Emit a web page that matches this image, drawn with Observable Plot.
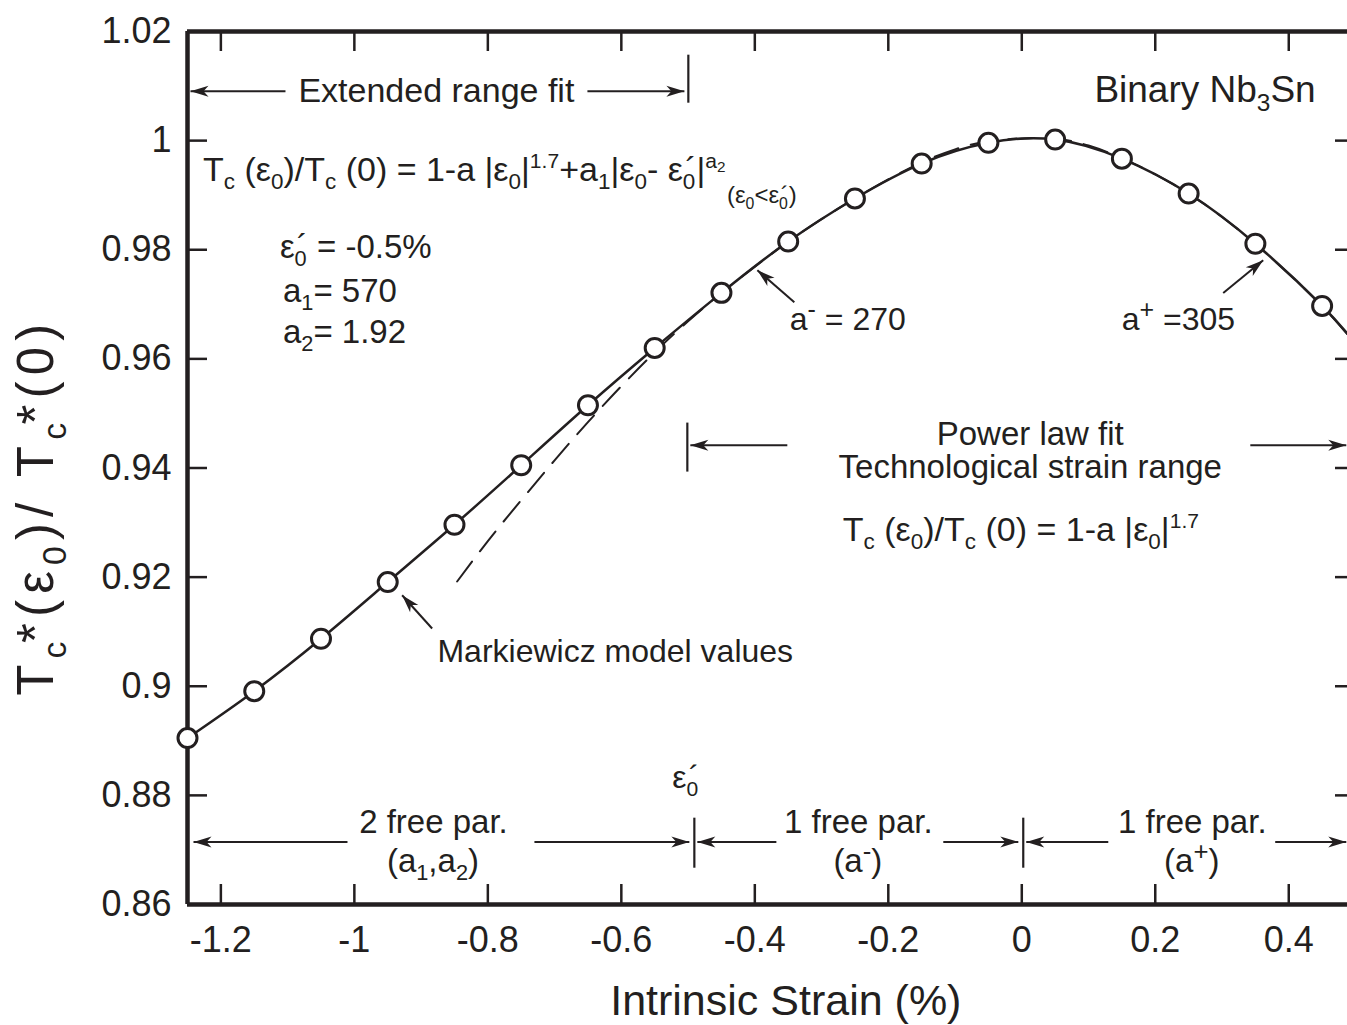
<!DOCTYPE html>
<html><head><meta charset="utf-8">
<script src="https://cdn.jsdelivr.net/npm/d3@7"></script>
<script src="https://cdn.jsdelivr.net/npm/@observablehq/plot@0.6"></script>
<style>html,body{margin:0;padding:0;background:#fff;overflow:hidden;} svg text{white-space:pre;}</style>
</head><body><div id="chart"></div>
<script>
// ---------- data ----------
const strain = [-1.25,-1.15,-1.05,-0.95,-0.85,-0.75,-0.65,-0.55,-0.45,-0.35,-0.25,-0.15,-0.05,0.05,0.15,0.25,0.35,0.45];
const markiewicz = [0.8905,0.8991,0.9087,0.9191,0.9296,0.9405,0.9515,0.9620,0.9721,0.9815,0.9894,0.9958,0.9996,1.0002,0.9967,0.9903,0.9811,0.9697];
// extended range fit (solid curve)
const fitStrain = [-1.25,-1.15,-1.05,-0.95,-0.85,-0.75,-0.65,-0.55,-0.45,-0.35,-0.25,-0.15,-0.05,0.05,0.15,0.25,0.35,0.45,0.5];
const fitValue  = [0.8905,0.8991,0.9087,0.9191,0.9296,0.9405,0.9515,0.9620,0.9721,0.9815,0.9894,0.9958,0.9996,1.0002,0.9967,0.9903,0.9811,0.9697,0.9628];
// power law fit (dashed curve)
const powStrain = [-0.846,-0.8,-0.75,-0.7,-0.65,-0.6,-0.55,-0.5,-0.45,-0.4,-0.35,-0.3,-0.25,-0.2,-0.15,-0.1,-0.05,0,0.05,0.1,0.15,0.2,0.25,0.3,0.35,0.4,0.45,0.5];
const powValue  = [0.9192,0.9266,0.9341,0.9414,0.9484,0.9550,0.9612,0.9669,0.9721,0.9769,0.9815,0.9856,0.9894,0.9929,0.9960,0.9984,0.9999,1.0004,1.0004,0.9991,0.9968,0.9938,0.9903,0.9860,0.9811,0.9756,0.9697,0.9628];

const xTicks = [-1.2,-1,-0.8,-0.6,-0.4,-0.2,0,0.2,0.4];
const xTickLabels = ["-1.2","-1","-0.8","-0.6","-0.4","-0.2","0","0.2","0.4"];
const yTicks = [0.86,0.88,0.9,0.92,0.94,0.96,0.98,1,1.02];
const yTickLabels = ["0.86","0.88","0.9","0.92","0.94","0.96","0.98","1","1.02"];

// annotations (data coordinates)
const arrows = [
  {x1:-1.1032, y1:1.00906, x2:-1.2455, y2:1.00906},
  {x1:-0.6508, y1:1.00906, x2:-0.5055, y2:1.00906},
  {x1:-0.3408, y1:0.97039, x2:-0.3962, y2:0.97626},
  {x1:0.3018,  y1:0.97209, x2:0.3617,  y2:0.97808},
  {x1:-0.3513, y1:0.94418, x2:-0.4966, y2:0.94418},
  {x1:0.3424,  y1:0.94418, x2:0.4862,  y2:0.94418},
  {x1:-0.8835, y1:0.91058, x2:-0.9284, y2:0.91668},
  {x1:-1.0103, y1:0.87147, x2:-1.2410, y2:0.87147},
  {x1:-0.7302, y1:0.87147, x2:-0.4981, y2:0.87147},
  {x1:-0.3677, y1:0.87147, x2:-0.4861, y2:0.87147},
  {x1:-0.1176, y1:0.87147, x2:-0.0052, y2:0.87147},
  {x1:0.1296,  y1:0.87147, x2:0.0067,  y2:0.87147},
  {x1:0.3797,  y1:0.87147, x2:0.4862,  y2:0.87147}
];
const bars = [
  {x:-0.4996, y1:1.00686, y2:1.01566},
  {x:-0.5011, y1:0.93925, y2:0.94823},
  {x:-0.4906, y1:0.86665, y2:0.87582},
  {x:0.0022,  y1:0.86665, y2:0.87582}
];
const plainMiddle = [
  {x:-0.8771, y:1.00704, text:"Extended range fit", size:34},
  {x:0.0127,  y:0.94418, text:"Power law fit", size:33},
  {x:0.0127,  y:0.93813, text:"Technological strain range", size:33},
  {x:-0.8815, y:0.87305, text:"2 free par.", size:33},
  {x:-0.2449, y:0.87305, text:"1 free par.", size:33},
  {x:0.2554,  y:0.87305, text:"1 free par.", size:33}
];
const plainStart = [
  {x:-0.8755, y:0.90440, text:"Markiewicz model values", size:32}
];
// rich text: [string, kind, dx(em)]
const richLabels = [
  {x:0.4411, y:1.00704, size:37, anchor:"end", parts:[["Binary Nb"],["3","sub"],["Sn"]]},
  {x:-1.2260, y:0.99256, size:34, parts:[["T"],["c","sub"],[" (ε"],["0","sub"],[")/T"],["c","sub"],[" (0) = 1-a |ε"],["0","sub"],["|"],["1.7","sup"],["+a"],["1","sub"],["|ε"],["0","sub"],["- ε"],["0","sub"],["´","n",-0.3],["|"],["a","sup"],["2","supsub"]]},
  {x:-0.4411, y:0.98853, size:24, parts:[["(ε"],["0","sub"],["<ε"],["0","sub"],["´","n",-0.3],[")"]]},
  {x:-1.1108, y:0.97845, size:33, parts:[["ε"],["0","sub"],["´","n",-0.3],[" = -0.5%"]]},
  {x:-1.1063, y:0.97039, size:33, parts:[["a"],["1","sub"],["= 570"]]},
  {x:-1.1063, y:0.96288, size:33, parts:[["a"],["2","sub"],["= 1.92"]]},
  {x:-0.3468, y:0.96525, size:32, parts:[["a"],["-","supbig"],[" = 270"]]},
  {x:0.1505,  y:0.96525, size:32, parts:[["a"],["+","supbig"],[" =305"]]},
  {x:-0.2674, y:0.92658, size:34, parts:[["T"],["c","sub"],[" (ε"],["0","sub"],[")/T"],["c","sub"],[" (0) = 1-a |ε"],["0","sub"],["|"],["1.7","sup"]]},
  {x:-0.5026, y:0.88131, size:32, anchor:"middle", parts:[["ε"],["0","sub"],["´","n",-0.3]]},
  {x:-0.8815, y:0.86590, size:33, anchor:"middle", parts:[["(a"],["1","sub"],[",a"],["2","sub"],[")"]]},
  {x:-0.2449, y:0.86590, size:33, anchor:"middle", parts:[["(a"],["-","supbig"],[")"]]},
  {x:0.2554,  y:0.86590, size:33, anchor:"middle", parts:[["(a"],["+","supbig"],[")"]]},
  {x:-0.3528, y:0.83970, size:43, anchor:"middle", parts:[["Intrinsic Strain (%)"]]},
  {x:-1.4507, y:0.93226, size:51, anchor:"middle", rotate:-90, length:372, parts:[["T"],["c","sub"],["*","n",-0.15],["(ε"],["0","sub"],[")/ T"],["c","sub"],["*","n",-0.15],["(0)"]]}
];

// ---------- styling ----------
const FONT = "'Liberation Sans', Arial, Helvetica, sans-serif";
const INK = "#231f20";
const KINDS = {n:{s:1,d:0}, sub:{s:0.66,d:0.25}, sup:{s:0.62,d:-0.36}, supsub:{s:0.45,d:-0.26}, supbig:{s:0.78,d:-0.36}};
// filled dart-shaped arrow head, tip at the origin pointing up
const dartHead = {draw(ctx) { ctx.moveTo(0, 0); ctx.lineTo(-5.5, 18); ctx.lineTo(0, 13); ctx.lineTo(5.5, 18); ctx.closePath(); }};

const markers = strain.map((x,i)=>({x, y:markiewicz[i]}));
const fit = fitStrain.map((x,i)=>({x, y:fitValue[i]}));
const pow = powStrain.map((x,i)=>({x, y:powValue[i]}));

function build(heads) {
  return Plot.plot({
    width: 1347, height: 1025,
    marginLeft: 187, marginRight: -8, marginTop: 31, marginBottom: 121,
    x: {domain: [-1.25, 0.5]},
    y: {domain: [0.86, 1.02]},
    style: {fontFamily: FONT, color: INK, background: "white"},
    marks: [
      // inward ticks (bottom, top, left, right)
      Plot.ruleX(xTicks, {stroke: INK, strokeWidth: 2.5, insetTop: 853}),
      Plot.ruleX(xTicks, {stroke: INK, strokeWidth: 2.5, insetBottom: 853}),
      Plot.ruleY(yTicks.slice(1,-1), {stroke: INK, strokeWidth: 2.5, insetRight: 1148}),
      Plot.ruleY(yTicks.slice(1,-1), {stroke: INK, strokeWidth: 2.5, insetLeft: 1148}),
      Plot.axisX(xTicks, {tickSize: 0, tickPadding: 22, fontSize: 36, fill: INK, label: null,
        tickFormat: d => xTickLabels[xTicks.indexOf(d)]}),
      Plot.axisY(yTicks, {tickSize: 0, tickPadding: 16, fontSize: 36, fill: INK, label: null,
        tickFormat: d => yTickLabels[yTicks.indexOf(d)]}),
      // frame
      Plot.ruleX([-1.25, 0.5], {stroke: INK, strokeWidth: 4.5}),
      Plot.ruleY([0.86, 1.02], {stroke: INK, strokeWidth: 4.5}),
      // curves
      Plot.line(pow, {x: "x", y: "y", curve: "natural", stroke: INK, strokeWidth: 2, strokeDasharray: "25,13", clip: true}),
      Plot.line(fit, {x: "x", y: "y", curve: "natural", stroke: INK, strokeWidth: 2.5, clip: true}),
      Plot.dot(markers, {x: "x", y: "y", r: 9.5, fill: "white", stroke: INK, strokeWidth: 3}),
      // annotations
      Plot.link(arrows, {x1: "x1", y1: "y1", x2: "x2", y2: "y2", stroke: INK, strokeWidth: 2}),
      Plot.dot(heads, {x: "x2", y: "y2", rotate: "angle", symbol: dartHead, fill: INK, stroke: "none"}),
      Plot.ruleX(bars, {x: "x", y1: "y1", y2: "y2", stroke: INK, strokeWidth: 2.2}),
      Plot.text(plainMiddle, {x: "x", y: "y", text: "text", fontSize: d => d.size, textAnchor: "middle", lineAnchor: "bottom", fill: INK}),
      Plot.text(plainStart, {x: "x", y: "y", text: "text", fontSize: d => d.size, textAnchor: "start", lineAnchor: "bottom", fill: INK})
    ]
  });
}

// first pass: get the scales, so arrow heads can follow each arrow's screen direction
const probe = build([]);
const px0 = probe.scale("x"), py0 = probe.scale("y");
const heads = arrows.map(a => {
  const dx = px0.apply(a.x2) - px0.apply(a.x1), dy = py0.apply(a.y2) - py0.apply(a.y1);
  return {...a, angle: Math.atan2(dx, -dy) * 180 / Math.PI};
});
const plot = build(heads);

const xs = plot.scale("x"), ys = plot.scale("y");
const svg = d3.select(plot);
for (const L of richLabels) {
  const px = xs.apply(L.x), py = ys.apply(L.y);
  const t = svg.append("text")
    .attr("transform", `translate(${px},${py})` + (L.rotate ? ` rotate(${L.rotate})` : ""))
    .attr("text-anchor", L.anchor || "start")
    .attr("font-family", FONT).attr("font-size", L.size).attr("fill", INK);
  if (L.length) t.attr("textLength", L.length).attr("lengthAdjust", "spacing");
  let shift = 0;
  for (const [str, kind = "n", dx] of L.parts) {
    const k = KINDS[kind];
    const ts = t.append("tspan").attr("font-size", L.size * k.s).attr("dy", (k.d - shift) * L.size).text(str);
    if (dx) ts.attr("dx", dx * L.size);
    shift = k.d;
  }
}
document.getElementById("chart").appendChild(plot);
</script></body></html>
